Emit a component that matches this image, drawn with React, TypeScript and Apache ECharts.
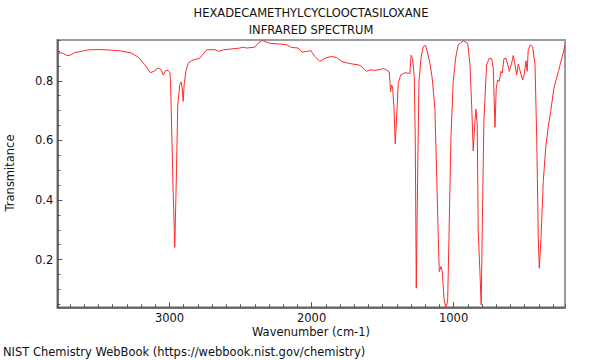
import React, { useEffect, useRef } from 'react';
import * as echarts from 'echarts';

const titleLines = ['HEXADECAMETHYLCYCLOOCTASILOXANE', 'INFRARED SPECTRUM'];
const xAxisTitle = 'Wavenumber (cm-1)';
const yAxisTitle = 'Transmitance';
const footer = 'NIST Chemistry WebBook (https://webbook.nist.gov/chemistry)';

const X_MIN = 216;
const X_MAX = 3790;
const Y_MIN = 0.04;
const Y_MAX = 0.937;

const wavenumbers = [
  3790, 3780, 3756, 3737, 3714, 3695, 3667, 3620, 3573, 3503, 3408, 3338, 3268, 3221, 3174, 3134,
  3104, 3080, 3061, 3045, 3028, 3010, 2998, 2993, 2986, 2975, 2963, 2951, 2942, 2928, 2918, 2911,
  2904, 2897, 2885, 2869, 2845, 2787, 2739, 2681, 2653, 2622, 2563, 2505, 2482, 2458, 2399, 2376,
  2348, 2329, 2294, 2211, 2176, 2141, 2094, 2066, 2035, 2005, 1977, 1942, 1906, 1859, 1824, 1789,
  1742, 1707, 1672, 1648, 1613, 1589, 1554, 1519, 1496, 1472, 1453, 1449, 1444, 1437, 1430, 1420,
  1411, 1401, 1390, 1373, 1343, 1308, 1299, 1289, 1277, 1270, 1263, 1253, 1244, 1230, 1214, 1197,
  1183, 1167, 1151, 1132, 1120, 1108, 1101, 1089, 1080, 1068, 1056, 1042, 1033, 1019, 1003, 986,
  968, 932, 901, 885, 873, 862, 850, 843, 834, 827, 815, 806, 796, 787, 768, 749,
  732, 721, 709, 700, 690, 679, 667, 658, 646, 632, 620, 608, 592, 580, 568, 556,
  545, 528, 514, 503, 491, 482, 475, 460, 444, 427, 415, 404, 397, 385, 369, 352,
  334, 317, 294, 263, 235, 216,
];

const transmittance = [
  0.891, 0.893, 0.894, 0.889, 0.884, 0.887, 0.895, 0.899, 0.904, 0.905, 0.903, 0.9, 0.893, 0.88, 0.854, 0.827,
  0.834, 0.843, 0.839, 0.82, 0.834, 0.835, 0.829, 0.798, 0.665, 0.44, 0.241, 0.496, 0.719, 0.787, 0.796, 0.776,
  0.731, 0.787, 0.832, 0.859, 0.868, 0.876, 0.904, 0.905, 0.899, 0.904, 0.907, 0.91, 0.913, 0.91, 0.913, 0.926,
  0.936, 0.932, 0.926, 0.923, 0.921, 0.912, 0.91, 0.896, 0.899, 0.901, 0.882, 0.865, 0.876, 0.882, 0.878, 0.865,
  0.859, 0.856, 0.854, 0.848, 0.832, 0.837, 0.835, 0.838, 0.841, 0.836, 0.83, 0.802, 0.763, 0.785, 0.78, 0.713,
  0.588, 0.679, 0.791, 0.819, 0.827, 0.825, 0.886, 0.875, 0.813, 0.601, 0.104, 0.496, 0.798, 0.876, 0.915, 0.919,
  0.893, 0.859, 0.809, 0.708, 0.497, 0.272, 0.16, 0.177, 0.16, 0.071, 0.038, 0.061, 0.272, 0.608, 0.798, 0.876,
  0.921, 0.934, 0.926, 0.854, 0.719, 0.565, 0.664, 0.705, 0.652, 0.295, 0.16, 0.048, 0.384, 0.664, 0.854, 0.876,
  0.874, 0.843, 0.644, 0.776, 0.803, 0.798, 0.832, 0.826, 0.874, 0.876, 0.856, 0.832, 0.859, 0.885, 0.854, 0.82,
  0.856, 0.826, 0.803, 0.82, 0.867, 0.832, 0.904, 0.921, 0.915, 0.854, 0.608, 0.272, 0.171, 0.272, 0.462, 0.574,
  0.647, 0.697, 0.775, 0.831, 0.882, 0.919,
];

const FONT = 'DejaVu Sans';
const FS = 11.5;

export default function App() {
  const ref = useRef<HTMLDivElement>(null);

  useEffect(() => {
    if (!ref.current) return;
    const chart = echarts.init(ref.current, undefined, { renderer: 'svg' });
    const data = wavenumbers.map((w, i) => [w, transmittance[i]]);
    const axisColor = '#505050';
    const baseX = {
      type: 'value' as const,
      inverse: true,
      min: X_MIN,
      max: X_MAX,
      position: 'bottom' as const,
      splitLine: { show: false },
    };
    const baseY = {
      type: 'value' as const,
      min: Y_MIN,
      max: Y_MAX,
      position: 'left' as const,
      splitLine: { show: false },
    };
    chart.setOption({
      animation: false,
      backgroundColor: '#ffffff',
      grid: {
        left: 57.3,
        right: 35,
        top: 40,
        bottom: 52.7,
        show: true,
        borderColor: '#9c9c9c',
        borderWidth: 2,
        backgroundColor: 'transparent',
      },
      xAxis: [
        {
          ...baseX,
          splitNumber: 4,
          axisLine: { show: true, lineStyle: { color: axisColor, width: 1.5 } },
          axisTick: { show: true, inside: true, length: 5, lineStyle: { color: axisColor } },
          axisLabel: {
            show: true,
            margin: 5,
            color: '#111',
            fontFamily: FONT,
            fontSize: FS,
            showMinLabel: false,
            showMaxLabel: false,
            formatter: (v: number) => (Math.round(v) % 1000 === 0 ? String(Math.round(v)) : ''),
          },
        },
        {
          ...baseX,
          splitNumber: 36,
          axisLine: { show: false },
          axisTick: { show: true, inside: true, length: 3, lineStyle: { color: axisColor } },
          axisLabel: { show: false },
        },
      ],
      yAxis: [
        {
          ...baseY,
          splitNumber: 4,
          axisLine: { show: true, lineStyle: { color: axisColor, width: 1.5 } },
          axisTick: { show: true, inside: true, length: 5, lineStyle: { color: axisColor } },
          axisLabel: {
            show: true,
            margin: 4,
            color: '#111',
            fontFamily: FONT,
            fontSize: FS,
            showMinLabel: false,
            showMaxLabel: false,
            formatter: (v: number) => v.toFixed(1),
          },
        },
        {
          ...baseY,
          splitNumber: 18,
          axisLine: { show: false },
          axisTick: { show: true, inside: true, length: 3, lineStyle: { color: axisColor } },
          axisLabel: { show: false },
        },
      ],
      series: [
        {
          type: 'line',
          xAxisIndex: 0,
          yAxisIndex: 0,
          data,
          showSymbol: false,
          symbol: 'none',
          clip: true,
          lineStyle: { color: '#ff2a2a', width: 1 },
        },
      ],
      graphic: [
        {
          type: 'text',
          x: 311,
          y: 13,
          style: { text: titleLines[0], fill: '#111', font: `${FS}px "${FONT}"`, textAlign: 'center', textVerticalAlign: 'middle' },
        },
        {
          type: 'text',
          x: 311,
          y: 30,
          style: { text: titleLines[1], fill: '#111', font: `${FS}px "${FONT}"`, textAlign: 'center', textVerticalAlign: 'middle' },
        },
        {
          type: 'text',
          x: 311,
          y: 332,
          style: { text: xAxisTitle, fill: '#111', font: `${FS}px "${FONT}"`, textAlign: 'center', textVerticalAlign: 'middle' },
        },
        {
          type: 'text',
          x: 10,
          y: 173,
          rotation: Math.PI / 2,
          style: { text: yAxisTitle, fill: '#111', font: `${FS}px "${FONT}"`, textAlign: 'center', textVerticalAlign: 'middle' },
        },
        {
          type: 'text',
          x: 3,
          y: 352,
          style: { text: footer, fill: '#111', font: `${FS}px "${FONT}"`, textAlign: 'left', textVerticalAlign: 'middle' },
        },
      ],
    });
    return () => chart.dispose();
  }, []);

  return (
    <div
      ref={ref}
      style={{ position: 'fixed', left: 0, top: 0, width: 600, height: 360, background: '#fff' }}
    />
  );
}
